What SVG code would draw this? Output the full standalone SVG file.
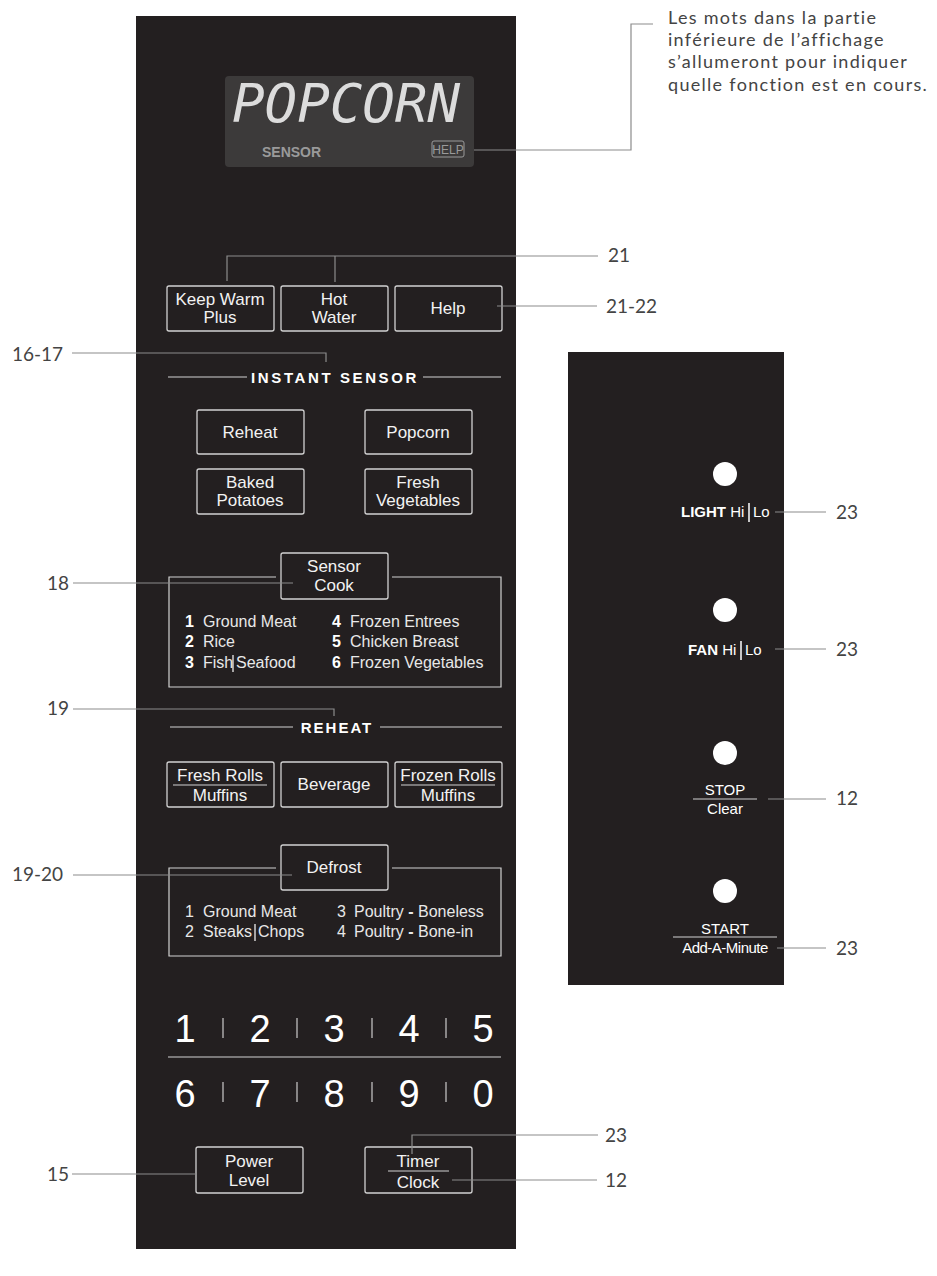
<svg xmlns="http://www.w3.org/2000/svg" width="937" height="1276" viewBox="0 0 937 1276">
<style>
.panel{fill:#231f20}
.btn{fill:none;stroke:#d2d2d2;stroke-width:1.3}
.bt{font-family:"Liberation Sans",Arial,sans-serif;font-size:17px;fill:#f2f2f2;text-anchor:middle}
.lt{font-family:"Liberation Sans",Arial,sans-serif;font-size:16px;fill:#e8e8e8}
.ln{font-family:"Liberation Sans",Arial,sans-serif;font-size:16px;fill:#ffffff;font-weight:bold}
.hd{font-family:"Liberation Sans",Arial,sans-serif;font-size:15px;fill:#ffffff;font-weight:bold;text-anchor:middle}
.wl{stroke:#d2d2d2;stroke-width:1.2;fill:none}
.ld{stroke:#8c8c8c;stroke-width:1.2;fill:none}
.lab{font-family:Lato,"Noto Sans",sans-serif;font-size:19px;fill:#444444}
.note{font-family:Lato,"Noto Sans",sans-serif;font-size:18px;fill:#444444;letter-spacing:1.3px}
.dg{font-family:"Liberation Sans",Arial,sans-serif;font-size:38px;fill:#ffffff;text-anchor:middle}
.rt{font-family:"Liberation Sans",Arial,sans-serif;font-size:15px;fill:#ffffff}
</style>
<rect width="937" height="1276" fill="#ffffff"/>
<rect class="panel" x="136" y="16" width="380" height="1233"/>
<rect class="panel" x="568" y="352" width="216" height="633"/>

<g id="display">
<rect x="225" y="76" width="249" height="91" rx="4" fill="#3c3a3a"/>
<text x="232" y="122" font-family="DejaVu Sans Mono,monospace" font-size="54" fill="#dcdcdc" font-style="italic" textLength="228" lengthAdjust="spacingAndGlyphs">POPCORN</text>
<text x="262" y="157" font-family="Liberation Sans,Arial,sans-serif" font-size="14" font-weight="bold" fill="#9a9a9a">SENSOR</text>
<rect x="432" y="141" width="32" height="16" rx="2" fill="none" stroke="#9a9a9a" stroke-width="1"/>
<text x="448" y="154" font-family="Liberation Sans,Arial,sans-serif" font-size="12" fill="#9a9a9a" text-anchor="middle">HELP</text>
</g>

<g id="note">
<text class="note" x="668" y="24">Les mots dans la partie</text>
<text class="note" x="668" y="46">inférieure de l’affichage</text>
<text class="note" x="668" y="68">s’allumeront pour indiquer</text>
<text class="note" x="668" y="91">quelle fonction est en cours.</text>
</g>

<g id="top-buttons">
<g id="keep-warm"><rect class="btn" x="167" y="286" width="107" height="45" rx="2"/><text class="bt" x="220" y="305">Keep Warm</text><text class="bt" x="220" y="323">Plus</text></g>
<g id="hot-water"><rect class="btn" x="281" y="286" width="107" height="45" rx="2"/><text class="bt" x="334" y="305">Hot</text><text class="bt" x="334" y="323">Water</text></g>
<g id="help"><rect class="btn" x="395" y="286" width="107" height="45" rx="2"/><text class="bt" x="448" y="314">Help</text></g>
</g>

<g id="instant-sensor">
<text class="hd" x="335" y="383" letter-spacing="2.6">INSTANT SENSOR</text>
<line class="wl" x1="168" y1="377" x2="247" y2="377"/>
<line class="wl" x1="423" y1="377" x2="501" y2="377"/>
<g id="reheat"><rect class="btn" x="197" y="410" width="107" height="44" rx="2"/><text class="bt" x="250" y="438">Reheat</text></g>
<g id="popcorn"><rect class="btn" x="365" y="410" width="107" height="44" rx="2"/><text class="bt" x="418" y="438">Popcorn</text></g>
<g id="baked"><rect class="btn" x="197" y="469" width="107" height="45" rx="2"/><text class="bt" x="250" y="488">Baked</text><text class="bt" x="250" y="506">Potatoes</text></g>
<g id="fresh-veg"><rect class="btn" x="365" y="469" width="107" height="45" rx="2"/><text class="bt" x="418" y="488">Fresh</text><text class="bt" x="418" y="506">Vegetables</text></g>
</g>

<g id="sensor-cook">
<path class="wl" d="M276 577 H169 V687 H501 V577 H392"/>
<rect class="btn" x="281" y="553" width="107" height="46" rx="2"/>
<text class="bt" x="334" y="572">Sensor</text><text class="bt" x="334" y="591">Cook</text>
<text class="ln" x="185" y="627">1</text><text class="lt" x="203" y="627">Ground Meat</text>
<text class="ln" x="185" y="647">2</text><text class="lt" x="203" y="647">Rice</text>
<text class="ln" x="185" y="668">3</text><text class="lt" x="203" y="668">Fish</text>
<line x1="233" y1="655" x2="233" y2="672" stroke="#ffffff" stroke-width="1.2"/>
<text class="lt" x="236" y="668">Seafood</text>
<text class="ln" x="332" y="627">4</text><text class="lt" x="350" y="627">Frozen Entrees</text>
<text class="ln" x="332" y="647">5</text><text class="lt" x="350" y="647">Chicken Breast</text>
<text class="ln" x="332" y="668">6</text><text class="lt" x="350" y="668">Frozen Vegetables</text>
</g>

<g id="reheat-section">
<text class="hd" x="337" y="733" letter-spacing="2">REHEAT</text>
<line class="wl" x1="170" y1="727" x2="293" y2="727"/>
<line class="wl" x1="380" y1="727" x2="502" y2="727"/>
<g id="fresh-rolls"><rect class="btn" x="167" y="762" width="107" height="45" rx="2"/><text class="bt" x="220" y="781">Fresh Rolls</text><line class="wl" x1="173" y1="785" x2="267" y2="785"/><text class="bt" x="220" y="801">Muffins</text></g>
<g id="beverage"><rect class="btn" x="281" y="762" width="107" height="45" rx="2"/><text class="bt" x="334" y="790">Beverage</text></g>
<g id="frozen-rolls"><rect class="btn" x="395" y="762" width="107" height="45" rx="2"/><text class="bt" x="448" y="781">Frozen Rolls</text><line class="wl" x1="401" y1="785" x2="495" y2="785"/><text class="bt" x="448" y="801">Muffins</text></g>
</g>

<g id="defrost">
<path class="wl" d="M276 868 H169 V956 H501 V868 H392"/>
<rect class="btn" x="281" y="845" width="107" height="45" rx="2"/>
<text class="bt" x="334" y="873">Defrost</text>
<text class="lt" x="185" y="917">1</text><text class="lt" x="203" y="917">Ground Meat</text>
<text class="lt" x="185" y="937">2</text><text class="lt" x="203" y="937">Steaks</text>
<line x1="255" y1="924" x2="255" y2="941" stroke="#ffffff" stroke-width="1.2"/>
<text class="lt" x="258" y="937">Chops</text>
<text class="lt" x="337" y="917">3</text><text class="lt" x="354" y="917">Poultry <tspan font-weight="bold">-</tspan> Boneless</text>
<text class="lt" x="337" y="937">4</text><text class="lt" x="354" y="937">Poultry <tspan font-weight="bold">-</tspan> Bone-in</text>
</g>

<g id="keypad">
<text class="dg" x="185" y="1042">1</text><text class="dg" x="260" y="1042">2</text><text class="dg" x="334" y="1042">3</text><text class="dg" x="409" y="1042">4</text><text class="dg" x="483" y="1042">5</text>
<text class="dg" x="185" y="1107">6</text><text class="dg" x="260" y="1107">7</text><text class="dg" x="334" y="1107">8</text><text class="dg" x="409" y="1107">9</text><text class="dg" x="483" y="1107">0</text>
<g stroke="#cccccc" stroke-width="1.2">
<line x1="223" y1="1018" x2="223" y2="1038"/><line x1="297" y1="1018" x2="297" y2="1038"/><line x1="372" y1="1018" x2="372" y2="1038"/><line x1="446" y1="1018" x2="446" y2="1038"/>
<line x1="223" y1="1082" x2="223" y2="1102"/><line x1="297" y1="1082" x2="297" y2="1102"/><line x1="372" y1="1082" x2="372" y2="1102"/><line x1="446" y1="1082" x2="446" y2="1102"/>
</g>
<line class="wl" x1="168" y1="1057" x2="501" y2="1057"/>
</g>

<g id="power-level"><rect class="btn" x="196" y="1147" width="107" height="46" rx="2"/><text class="bt" x="249" y="1167">Power</text><text class="bt" x="249" y="1186">Level</text></g>
<g id="timer-clock"><rect class="btn" x="365" y="1147" width="107" height="46" rx="2"/><text class="bt" x="418" y="1167">Timer</text><line class="wl" x1="388" y1="1171" x2="449" y2="1171"/><text class="bt" x="418" y="1188">Clock</text></g>

<g id="right-panel">
<g id="light"><circle cx="725" cy="474" r="12" fill="#ffffff"/><text class="rt" x="681" y="517"><tspan font-weight="bold">LIGHT</tspan> Hi</text><line x1="749" y1="503" x2="749" y2="522" stroke="#fff" stroke-width="1.5"/><text class="rt" x="753" y="517">Lo</text></g>
<g id="fan"><circle cx="725" cy="610" r="12" fill="#ffffff"/><text class="rt" x="688" y="655"><tspan font-weight="bold">FAN</tspan> Hi</text><line x1="741" y1="641" x2="741" y2="660" stroke="#fff" stroke-width="1.5"/><text class="rt" x="745" y="655">Lo</text></g>
<g id="stop"><circle cx="725" cy="753" r="12" fill="#ffffff"/><text class="rt" x="725" y="795" text-anchor="middle">STOP</text><line class="wl" x1="693" y1="799" x2="757" y2="799"/><text class="rt" x="725" y="814" text-anchor="middle">Clear</text></g>
<g id="start"><circle cx="725" cy="891" r="12" fill="#ffffff"/><text class="rt" x="725" y="934" text-anchor="middle">START</text><line class="wl" x1="673" y1="937" x2="777" y2="937"/><text class="rt" x="725" y="953" text-anchor="middle" letter-spacing="-0.5">Add-A-Minute</text></g>
</g>

<g id="connectors">
<polyline class="ld" points="474,150 631,150 631,24 653,24"/>
<polyline class="ld" points="227,281 227,256 598,256"/>
<line class="ld" x1="335" y1="256" x2="335" y2="282"/>
<line class="ld" x1="497" y1="306" x2="597" y2="306"/>
<polyline class="ld" points="72,353 326,353 326,362"/>
<line class="ld" x1="73" y1="583" x2="293" y2="583"/>
<polyline class="ld" points="73,709 334,709 334,716"/>
<line class="ld" x1="73" y1="875" x2="292" y2="875"/>
<line class="ld" x1="72" y1="1174" x2="196" y2="1174"/>
<polyline class="ld" points="412,1154 412,1135 598,1135"/>
<line class="ld" x1="452" y1="1180" x2="597" y2="1180"/>
<line class="ld" x1="775" y1="512" x2="826" y2="512"/>
<line class="ld" x1="775" y1="649" x2="826" y2="649"/>
<line class="ld" x1="768" y1="799" x2="826" y2="799"/>
<line class="ld" x1="777" y1="948" x2="826" y2="948"/>
</g>

<g id="labels">
<text class="lab" x="608" y="262">21</text>
<text class="lab" x="606" y="313">21-22</text>
<text class="lab" x="12" y="361">16-17</text>
<text class="lab" x="47" y="590">18</text>
<text class="lab" x="47" y="715">19</text>
<text class="lab" x="12" y="881">19-20</text>
<text class="lab" x="47" y="1181">15</text>
<text class="lab" x="605" y="1142">23</text>
<text class="lab" x="605" y="1187">12</text>
<text class="lab" x="836" y="519">23</text>
<text class="lab" x="836" y="656">23</text>
<text class="lab" x="836" y="805">12</text>
<text class="lab" x="836" y="955">23</text>
</g>
</svg>
